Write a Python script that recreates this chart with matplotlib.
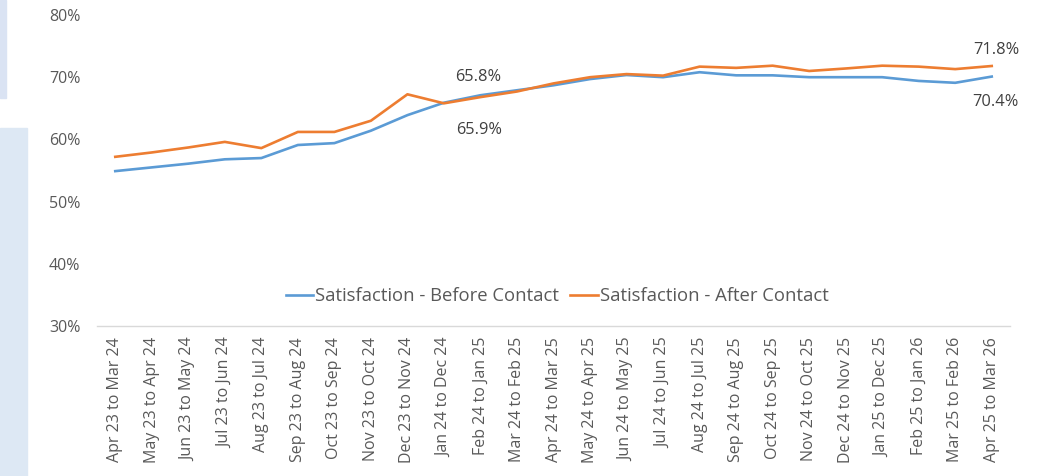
import matplotlib
matplotlib.use("Agg")
import matplotlib.pyplot as plt
from matplotlib.patches import Rectangle
from matplotlib.ticker import PercentFormatter

plt.rcParams['font.family'] = ['Open Sans', 'DejaVu Sans']

# Rolling 12 month periods
periods = [
    "Apr 23 to Mar 24", "May 23 to Apr 24", "Jun 23 to May 24", "Jul 23 to Jun 24",
    "Aug 23 to Jul 24", "Sep 23 to Aug 24", "Oct 23 to Sep 24", "Nov 23 to Oct 24",
    "Dec 23 to Nov 24", "Jan 24 to Dec 24", "Feb 24 to Jan 25", "Mar 24 to Feb 25",
    "Apr 24 to Mar 25", "May 24 to Apr 25", "Jun 24 to May 25", "Jul 24 to Jun 25",
    "Aug 24 to Jul 25", "Sep 24 to Aug 25", "Oct 24 to Sep 25", "Nov 24 to Oct 25",
    "Dec 24 to Nov 25", "Jan 25 to Dec 25", "Feb 25 to Jan 26", "Mar 25 to Feb 26",
    "Apr 25 to Mar 26",
]

# Satisfaction (%)
before_contact = [54.9, 55.5, 56.1, 56.8, 57.0, 59.1, 59.4, 61.4, 63.9, 65.9,
                  67.1, 67.9, 68.7, 69.7, 70.35, 70.0, 70.8, 70.3, 70.3, 70.0,
                  70.0, 70.0, 69.4, 69.1, 70.1]
after_contact = [57.2, 57.9, 58.7, 59.6, 58.6, 61.2, 61.2, 63.0, 67.25, 65.8,
                 66.8, 67.7, 69.0, 70.0, 70.5, 70.25, 71.7, 71.5, 71.85, 71.0,
                 71.4, 71.85, 71.7, 71.3, 71.8]

# Data labels shown on the chart: (index, text)
labels_after = [(9, "65.8%"), (24, "71.8%")]
labels_before = [(9, "65.9%"), (24, "70.4%")]

BLUE = "#5B9BD5"
ORANGE = "#ED7D31"
TEXT = "#595959"

fig = plt.figure(figsize=(10.64, 4.76), dpi=100)

# Light blue panels peeking in on the left edge
fig.patches.append(Rectangle((0, 1 - 98 / 476), 6 / 1064, 98 / 476,
                             transform=fig.transFigure, color="#DAE3F3", zorder=0))
fig.patches.append(Rectangle((0, 0), 27 / 1064, 1 - 128 / 476,
                             transform=fig.transFigure, color="#DDE8F4", zorder=0))

ax = fig.add_axes([97 / 1064, 1 - 326 / 476, (1010 - 97) / 1064, (326 - 15) / 476])

x = list(range(len(periods)))
ax.plot(x, before_contact, color=BLUE, lw=1.9, label="Satisfaction - Before Contact")
ax.plot(x, after_contact, color=ORANGE, lw=1.9, label="Satisfaction - After Contact")

# Data labels
offsets_after = {9: (25, 19), 24: (3, 11.5)}
offsets_before = {9: (25, -20), 24: (3, -18.5)}
for i, txt in labels_after:
    ax.annotate(txt, (i, after_contact[i]), xytext=offsets_after[i], textcoords="offset points",
                ha="center", va="center", fontsize=11.8, color="#404040")
for i, txt in labels_before:
    ax.annotate(txt, (i, before_contact[i]), xytext=offsets_before[i], textcoords="offset points",
                ha="center", va="center", fontsize=11.8, color="#404040")

ax.set_xlim(-0.5, len(periods) - 0.5)
ax.set_ylim(30, 80)
ax.set_yticks([30, 40, 50, 60, 70, 80])
ax.yaxis.set_major_formatter(PercentFormatter(decimals=0))
ax.set_xticks(x)
ax.set_xticklabels(periods, rotation=90, va="top", ha="center")

ax.tick_params(axis="both", length=0, labelsize=11.5, labelcolor=TEXT)
ax.tick_params(axis="x", pad=8)
ax.tick_params(axis="y", pad=12)

for side in ["top", "right", "left"]:
    ax.spines[side].set_visible(False)
ax.spines["bottom"].set_color("#D9D9D9")
ax.spines["bottom"].set_linewidth(1)
ax.set_facecolor("none")

ax.legend(loc="center", bbox_to_anchor=(0.504, 0.096), ncol=2, frameon=False,
          fontsize=13.3, handlelength=1.5, handletextpad=0.1, columnspacing=0.6,
          labelcolor=TEXT)

fig.savefig("out.png", dpi=100)
